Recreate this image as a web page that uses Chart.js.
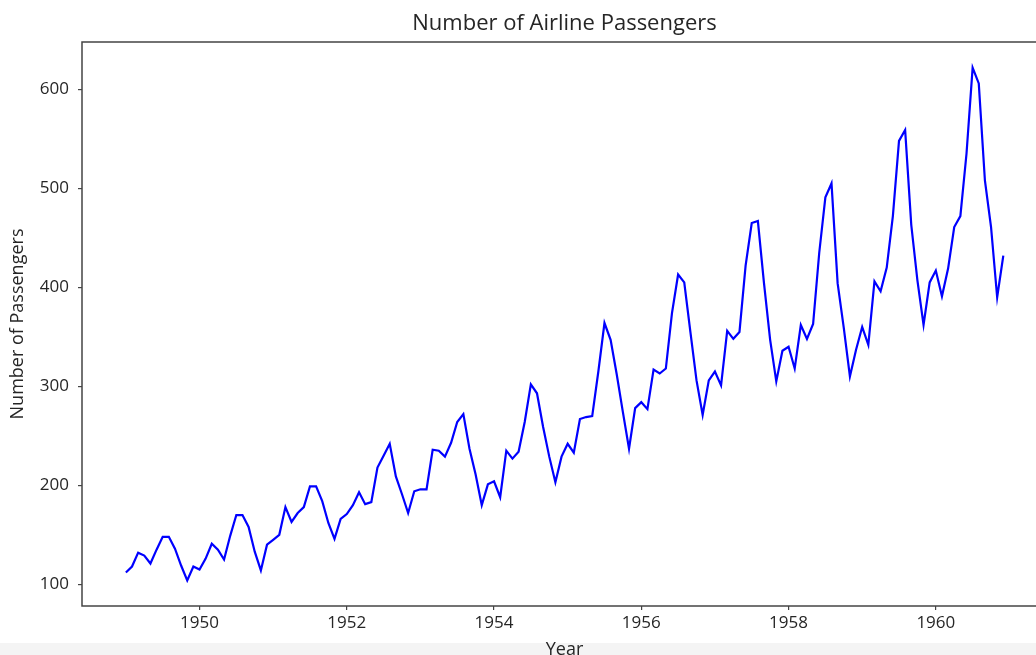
<!DOCTYPE html>
<html>
<head>
<meta charset="utf-8">
<script src="https://cdn.jsdelivr.net/npm/chart.js@4"></script>
<style>
  html, body { margin: 0; padding: 0; }
  body {
    width: 1036px; height: 655px; overflow: hidden;
    background: linear-gradient(to bottom, #ffffff 0px, #ffffff 643px, #f4f4f4 643px, #f4f4f4 655px);
  }
  #wrap { position: relative; width: 1060px; height: 670px; }
</style>
</head>
<body>
<div id="wrap"><canvas id="chart" width="1060" height="670"></canvas></div>
<script>
// Monthly totals of international airline passengers (thousands), 1949–1960
const years = [1949, 1950, 1951, 1952, 1953, 1954, 1955, 1956, 1957, 1958, 1959, 1960];
const p1949 = [112, 118, 132, 129, 121, 135, 148, 148, 136, 119, 104, 118];
const p1950 = [115, 126, 141, 135, 125, 149, 170, 170, 158, 133, 114, 140];
const p1951 = [145, 150, 178, 163, 172, 178, 199, 199, 184, 162, 146, 166];
const p1952 = [171, 180, 193, 181, 183, 218, 230, 242, 209, 191, 172, 194];
const p1953 = [196, 196, 236, 235, 229, 243, 264, 272, 237, 211, 180, 201];
const p1954 = [204, 188, 235, 227, 234, 264, 302, 293, 259, 229, 203, 229];
const p1955 = [242, 233, 267, 269, 270, 315, 364, 347, 312, 274, 237, 278];
const p1956 = [284, 277, 317, 313, 318, 374, 413, 405, 355, 306, 271, 306];
const p1957 = [315, 301, 356, 348, 355, 422, 465, 467, 404, 347, 305, 336];
const p1958 = [340, 318, 362, 348, 363, 435, 491, 505, 404, 359, 310, 337];
const p1959 = [360, 342, 406, 396, 420, 472, 548, 559, 463, 407, 362, 405];
const p1960 = [417, 391, 419, 461, 472, 535, 622, 606, 508, 461, 390, 432];
const passengersByYear = [p1949, p1950, p1951, p1952, p1953, p1954, p1955, p1956, p1957, p1958, p1959, p1960];

const xTickValues = [1950, 1952, 1954, 1956, 1958, 1960];
const yTickValues = [100, 200, 300, 400, 500, 600];

// Each month sits at year + monthIndex/12 on a continuous time axis
const points = [];
years.forEach((y, i) => {
  passengersByYear[i].forEach((v, m) => points.push({ x: y + m / 12, y: v }));
});

const FONT = "'Open Sans', 'Noto Sans', sans-serif";
const TEXT = '#262626';
const AXIS = '#444444';

// Closed box around the plotting area
const frame = {
  id: 'frame',
  afterDatasetsDraw(chart) {
    const { ctx, chartArea: a } = chart;
    ctx.save();
    ctx.strokeStyle = AXIS;
    ctx.lineWidth = 1.5;
    ctx.strokeRect(a.left, a.top, a.right - a.left, a.bottom - a.top);
    ctx.restore();
  }
};

new Chart(document.getElementById('chart'), {
  type: 'line',
  data: {
    datasets: [{
      data: points,
      borderColor: '#0000ff',
      borderWidth: 2.2,
      pointRadius: 0,
      tension: 0,
      fill: false
    }]
  },
  options: {
    responsive: false,
    animation: false,
    events: [],
    layout: { padding: { left: 0, right: 13, top: 0, bottom: 0 } },
    plugins: {
      legend: { display: false },
      tooltip: { enabled: false },
      title: {
        display: true,
        fullSize: false,
        text: 'Number of Airline Passengers',
        color: TEXT,
        font: { family: FONT, size: 22, weight: 'normal', lineHeight: 1.2 },
        padding: { top: 11, bottom: 4.6 }
      }
    },
    scales: {
      x: {
        type: 'linear',
        min: 1948.404,
        max: 1961.51,
        afterBuildTicks(scale) { scale.ticks = xTickValues.map(v => ({ value: v })); },
        afterFit(scale) { scale.height = 64; },
        ticks: {
          color: TEXT,
          font: { family: FONT, size: 17 },
          padding: 3,
          maxRotation: 0,
          callback: v => String(v)
        },
        grid: { drawOnChartArea: false, drawTicks: true, tickLength: 4, color: AXIS, lineWidth: 1.2 },
        border: { display: false },
        title: {
          display: true,
          text: 'Year',
          color: TEXT,
          font: { family: FONT, size: 18, lineHeight: 1.2 },
          padding: { top: 0, bottom: 9 }
        }
      },
      y: {
        type: 'linear',
        min: 78.1,
        max: 647.9,
        afterBuildTicks(scale) { scale.ticks = yTickValues.map(v => ({ value: v })); },
        afterFit(scale) { scale.width = 82; },
        ticks: {
          color: TEXT,
          font: { family: FONT, size: 17 },
          padding: 9,
          callback: v => String(v)
        },
        grid: { drawOnChartArea: false, drawTicks: true, tickLength: 4, color: AXIS, lineWidth: 1.2 },
        border: { display: false },
        title: {
          display: true,
          text: 'Number of Passengers',
          color: TEXT,
          font: { family: FONT, size: 18, lineHeight: 1.2 },
          padding: { top: 7, bottom: 0 }
        }
      }
    }
  },
  plugins: [frame]
});
</script>
</body>
</html>
